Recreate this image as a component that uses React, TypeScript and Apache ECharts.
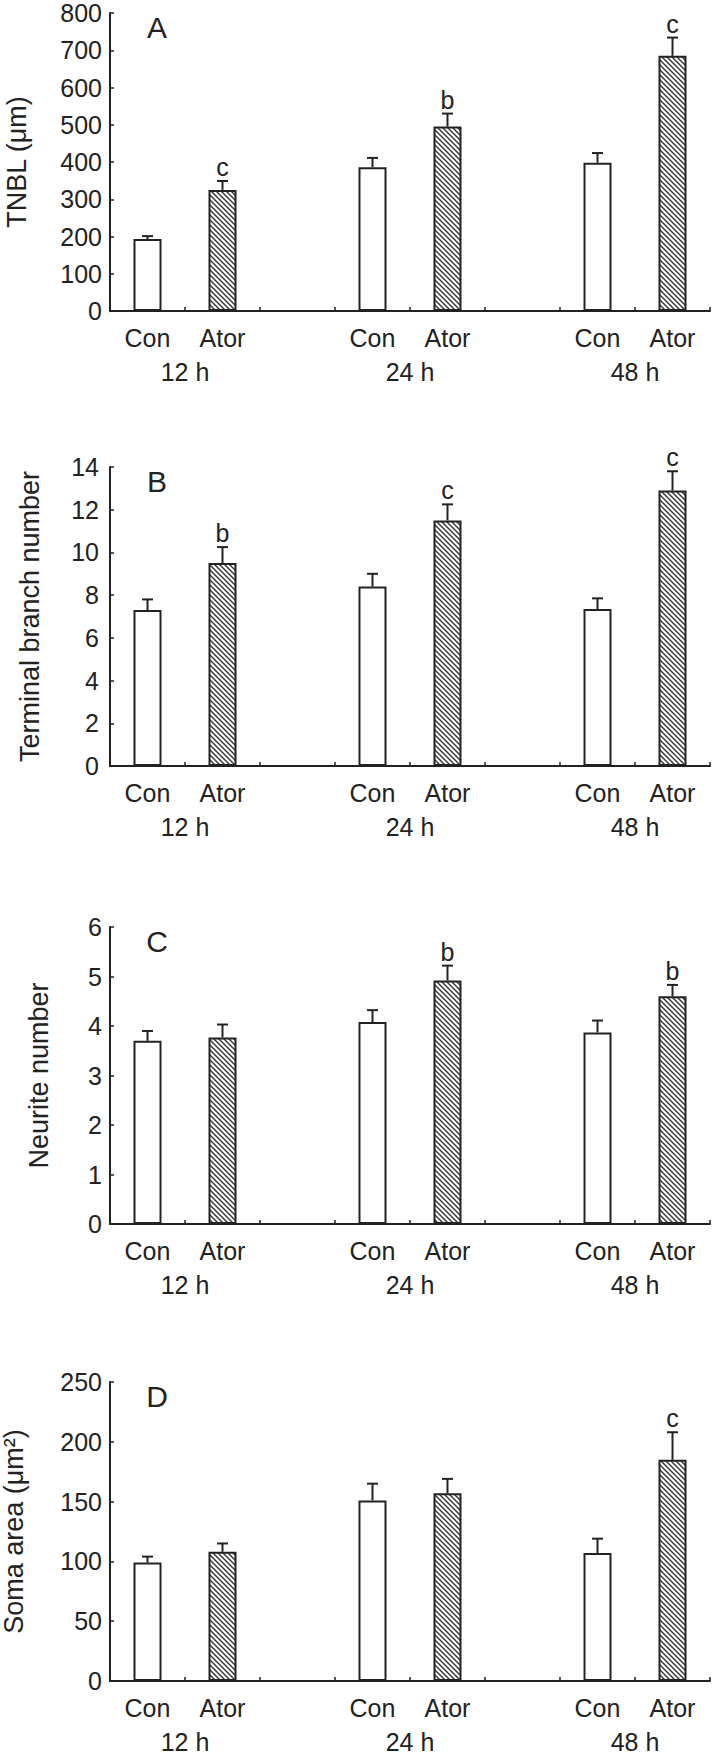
import React, { useEffect, useRef } from 'react';
import * as echarts from 'echarts';

// ---------- data ----------
const categories = ['Con', 'Ator', '', 'Con', 'Ator', '', 'Con', 'Ator'];
const conSlots = [0, 3, 6];
const atorSlots = [1, 4, 7];
const timeLabels = ['12 h', '24 h', '48 h'];
const timeLabelPositions = [1, 4, 7];

const panelLetters = ['A', 'B', 'C', 'D'];
const yNames = ['TNBL (μm)', 'Terminal branch number', 'Neurite number', 'Soma area (μm²)'];
const yMax = [800, 14, 6, 250];
const yInterval = [100, 2, 1, 50];

// Panel A: TNBL
const tnblCon = [193, 386, 398];
const tnblConErr = [8, 25, 26];
const tnblAtor = [325, 495, 685];
const tnblAtorErr = [24, 35, 49];
const tnblSig = ['c', 'b', 'c'];

// Panel B: terminal branch number
const branchCon = [7.3, 8.4, 7.35];
const branchConErr = [0.5, 0.6, 0.5];
const branchAtor = [9.5, 11.5, 12.9];
const branchAtorErr = [0.75, 0.75, 0.9];
const branchSig = ['b', 'c', 'c'];

// Panel C: neurite number
const neuriteCon = [3.7, 4.08, 3.87];
const neuriteConErr = [0.2, 0.24, 0.24];
const neuriteAtor = [3.77, 4.92, 4.6];
const neuriteAtorErr = [0.26, 0.3, 0.23];
const neuriteSig = ['', 'b', 'b'];

// Panel D: soma area
const somaCon = [99, 151, 107];
const somaConErr = [5, 14, 12];
const somaAtor = [108, 157, 185];
const somaAtorErr = [7, 12, 23];
const somaSig = ['', '', 'c'];

const panels = [
  { con: tnblCon, conErr: tnblConErr, ator: tnblAtor, atorErr: tnblAtorErr, sig: tnblSig },
  { con: branchCon, conErr: branchConErr, ator: branchAtor, atorErr: branchAtorErr, sig: branchSig },
  { con: neuriteCon, conErr: neuriteConErr, ator: neuriteAtor, atorErr: neuriteAtorErr, sig: neuriteSig },
  { con: somaCon, conErr: somaConErr, ator: somaAtor, atorErr: somaAtorErr, sig: somaSig },
];

// ---------- layout / style ----------
const gridTops = [13, 467, 927, 1382];
const gridHeights = [298, 299, 297, 299];
const nameGaps = [80, 67, 58, 83];
const labelMargins = [8, 11, 8, 8];
const INK = '#222';
const FONT = '"Liberation Sans", Arial, sans-serif';

function makeHatch() {
  const s = 5;
  const c = document.createElement('canvas');
  c.width = s;
  c.height = s;
  const ctx = c.getContext('2d') as CanvasRenderingContext2D;
  ctx.fillStyle = '#ffffff';
  ctx.fillRect(0, 0, s, s);
  ctx.strokeStyle = '#333333';
  ctx.lineWidth = 1.4;
  ctx.beginPath();
  ctx.moveTo(-1, -1);
  ctx.lineTo(s + 1, s + 1);
  ctx.moveTo(s - 1, -1);
  ctx.lineTo(s + 1, 1);
  ctx.moveTo(-1, s - 1);
  ctx.lineTo(1, s + 1);
  ctx.stroke();
  return { image: c.toDataURL(), repeat: 'repeat', imageWidth: s, imageHeight: s };
}

export default function App() {
  const ref = useRef<HTMLDivElement>(null);

  useEffect(() => {
    document.body.style.margin = '0';
    if (!ref.current) return;
    const chart = echarts.init(ref.current, null, { renderer: 'svg' });
    const hatch = makeHatch();

    const grid: any[] = [];
    const xAxis: any[] = [];
    const yAxis: any[] = [];
    const series: any[] = [];
    const graphic: any[] = [];

    panels.forEach((p, i) => {
      grid.push({
        left: 110,
        width: 600,
        top: gridTops[i],
        height: gridHeights[i],
        outerBoundsMode: 'none',
        containLabel: false,
      });
      xAxis.push({
        type: 'category',
        gridIndex: i,
        data: categories,
        boundaryGap: true,
        axisLine: { show: true, lineStyle: { color: INK, width: 2 } },
        axisTick: { show: true, inside: true, length: 4, lineStyle: { color: INK, width: 1.5 } },
        axisLabel: { interval: 0, fontSize: 25, margin: 14, color: INK, fontFamily: FONT },
        splitLine: { show: false },
      });
      xAxis.push({
        type: 'value',
        gridIndex: i,
        position: 'bottom',
        min: 0,
        max: 8,
        interval: 1,
        axisLine: { show: false },
        axisTick: { show: false },
        splitLine: { show: false },
        axisLabel: {
          fontSize: 25,
          margin: 48,
          color: INK,
          fontFamily: FONT,
          formatter: (v: number) => {
            const k = timeLabelPositions.indexOf(v);
            return k >= 0 ? timeLabels[k] : '';
          },
        },
      });
      yAxis.push({
        type: 'value',
        gridIndex: i,
        min: 0,
        max: yMax[i],
        interval: yInterval[i],
        name: yNames[i],
        nameLocation: 'middle',
        nameRotate: 90,
        nameGap: nameGaps[i],
        nameTextStyle: { fontSize: 27, color: INK, fontFamily: FONT },
        axisLine: { show: true, lineStyle: { color: INK, width: 2 } },
        axisTick: { show: true, inside: true, length: 4, lineStyle: { color: INK, width: 1.5 } },
        axisLabel: { fontSize: 25, color: INK, margin: labelMargins[i], fontFamily: FONT },
        splitLine: { show: false },
      });

      const barData: any[] = categories.map(() => '-');
      p.con.forEach((v, k) => {
        barData[conSlots[k]] = { value: v, itemStyle: { color: '#ffffff' } };
      });
      p.ator.forEach((v, k) => {
        barData[atorSlots[k]] = { value: v, itemStyle: { color: hatch } };
      });
      series.push({
        type: 'bar',
        xAxisIndex: i * 2,
        yAxisIndex: i,
        barWidth: 28,
        data: barData,
        itemStyle: { borderColor: INK, borderWidth: 2 },
        emphasis: { disabled: true },
      });

      const errData: number[][] = [];
      const errSig: string[] = [];
      p.con.forEach((v, k) => {
        errData.push([conSlots[k], v, p.conErr[k]]);
        errSig.push('');
      });
      p.ator.forEach((v, k) => {
        errData.push([atorSlots[k], v, p.atorErr[k]]);
        errSig.push(p.sig[k]);
      });
      series.push({
        type: 'custom',
        xAxisIndex: i * 2,
        yAxisIndex: i,
        data: errData,
        clip: false,
        renderItem: (params: any, api: any) => {
          const x = api.value(0);
          const m = api.value(1);
          const e = api.value(2);
          const p0 = api.coord([x, m]);
          const p1 = api.coord([x, m + e]);
          const sig = errSig[params.dataIndex];
          const children: any[] = [
            {
              type: 'line',
              shape: { x1: p0[0], y1: p0[1], x2: p1[0], y2: p1[1] },
              style: { stroke: INK, lineWidth: 2 },
            },
            {
              type: 'line',
              shape: { x1: p1[0] - 5.5, y1: p1[1], x2: p1[0] + 5.5, y2: p1[1] },
              style: { stroke: INK, lineWidth: 2 },
            },
          ];
          if (sig) {
            children.push({
              type: 'text',
              x: p1[0],
              y: p1[1] - 14,
              style: {
                text: sig,
                fill: INK,
                fontSize: 25,
                fontFamily: FONT,
                align: 'center',
                verticalAlign: 'middle',
              },
            });
          }
          return { type: 'group', children };
        },
      });

      graphic.push({
        type: 'text',
        x: 157,
        y: gridTops[i] + 14,
        style: {
          text: panelLetters[i],
          fill: INK,
          fontSize: 30,
          fontFamily: FONT,
          align: 'center',
          verticalAlign: 'middle',
        },
      });
    });

    chart.setOption({
      animation: false,
      backgroundColor: '#ffffff',
      textStyle: { fontFamily: FONT, color: INK },
      grid,
      xAxis,
      yAxis,
      series,
      graphic,
    });

    return () => {
      chart.dispose();
    };
  }, []);

  return (
    <div
      ref={ref}
      style={{ position: 'absolute', left: 0, top: 0, width: 714, height: 1754, background: '#fff' }}
    />
  );
}
